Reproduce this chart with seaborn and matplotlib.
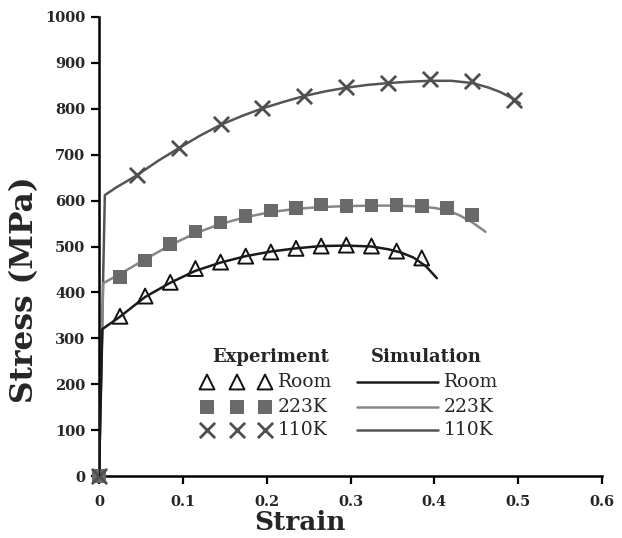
import numpy as np
import pandas as pd
import matplotlib
matplotlib.use("Agg")
import matplotlib.pyplot as plt
import seaborn as sns

# ---------------- data ----------------
# Experiment (markers)
room_exp_strain = [0.025, 0.055, 0.085, 0.115, 0.145, 0.175, 0.205, 0.235, 0.265, 0.295, 0.325, 0.355, 0.385]
room_exp_stress = [348, 392, 422, 452, 466, 479, 488, 496, 501, 503, 501, 490, 475]

k223_exp_strain = [0.0, 0.025, 0.055, 0.085, 0.115, 0.145, 0.175, 0.205, 0.235, 0.265, 0.295, 0.325, 0.355, 0.385, 0.415, 0.445]
k223_exp_stress = [0, 434, 470, 506, 533, 552, 567, 578, 584, 591, 588, 589, 590, 588, 584, 569]

k110_exp_strain = [0.0, 0.045, 0.095, 0.145, 0.195, 0.245, 0.295, 0.345, 0.395, 0.445, 0.495]
k110_exp_stress = [0, 656, 714, 767, 801, 828, 847, 856, 865, 861, 819]

# Simulation (lines)
room_sim_strain = [0.0, 0.004, 0.025, 0.055, 0.085, 0.115, 0.145, 0.175, 0.205, 0.235, 0.265, 0.295, 0.325, 0.345, 0.36, 0.375, 0.39, 0.403]
room_sim_stress = [0, 320, 347, 390, 421, 447, 465, 479, 489, 496, 501, 502, 500, 494, 487, 476, 457, 431]

k223_sim_strain = [0.0, 0.005, 0.025, 0.055, 0.085, 0.115, 0.145, 0.175, 0.205, 0.235, 0.265, 0.295, 0.325, 0.355, 0.385, 0.4, 0.415, 0.43, 0.445, 0.461]
k223_sim_stress = [0, 420, 440, 472, 503, 529, 549, 564, 575, 582, 586, 588, 589, 589, 587, 584, 579, 568, 553, 532]

k110_sim_strain = [0.0, 0.007, 0.02, 0.045, 0.07, 0.095, 0.12, 0.145, 0.17, 0.195, 0.22, 0.245, 0.27, 0.295, 0.32, 0.345, 0.37, 0.395, 0.42, 0.446, 0.465, 0.478, 0.492, 0.502]
k110_sim_stress = [0, 612, 628, 655, 686, 714, 741, 765, 784, 801, 815, 828, 838, 846, 852, 856, 859, 861, 861, 856, 846, 837, 824, 812]

series_names = ["Room", "223K", "110K"]
x_ticks = [0, 0.1, 0.2, 0.3, 0.4, 0.5, 0.6]
x_tick_labels = ["0", "0.1", "0.2", "0.3", "0.4", "0.5", "0.6"]
y_ticks = list(range(0, 1001, 100))

# ---------------- style ----------------
sns.set_style("ticks")
plt.rcParams["font.family"] = ["DejaVu Serif"]

line_colors = {"Room": "#1a1a1a", "223K": "#878787", "110K": "#555555"}
marker_style = {
    "Room": dict(marker="^", s=115, facecolors="none", edgecolors="#111111", linewidths=1.4),
    "223K": dict(marker="s", s=95, color="#6a6a6a", edgecolors="none"),
    "110K": dict(marker="x", s=120, color="#4f4f4f", linewidths=2.0),
}

fig = plt.figure(figsize=(6.22, 5.38), dpi=100)
ax = fig.add_axes([99 / 622, 1 - 476 / 538, 503 / 622, 459 / 538])

sims = {
    "Room": (room_sim_strain, room_sim_stress),
    "223K": (k223_sim_strain, k223_sim_stress),
    "110K": (k110_sim_strain, k110_sim_stress),
}
exps = {
    "Room": (room_exp_strain, room_exp_stress),
    "223K": (k223_exp_strain, k223_exp_stress),
    "110K": (k110_exp_strain, k110_exp_stress),
}

for name in ["110K", "223K"]:
    sx, sy = sims[name]
    sns.lineplot(x=sx, y=sy, ax=ax, color=line_colors[name], lw=1.8,
                 sort=False, estimator=None, zorder=2)
for name in ["Room", "223K", "110K"]:
    ex, ey = exps[name]
    sns.scatterplot(x=ex, y=ey, ax=ax, zorder=3, clip_on=False, **marker_style[name])
sx, sy = sims["Room"]
sns.lineplot(x=sx, y=sy, ax=ax, color=line_colors["Room"], lw=1.8,
             sort=False, estimator=None, zorder=4)

ax.set_xlim(0, 0.6)
ax.set_ylim(0, 1000)
ax.set_xticks(x_ticks)
ax.set_xticklabels(x_tick_labels)
ax.set_yticks(y_ticks)
ax.tick_params(axis="both", direction="out", length=6, width=1.6, labelsize=10.5, pad=4, color="black")
ax.tick_params(axis="x", pad=8)
for lab in ax.get_xticklabels() + ax.get_yticklabels():
    lab.set_fontweight("bold")
sns.despine(ax=ax)
for sp in ["left", "bottom"]:
    ax.spines[sp].set_linewidth(1.8)
    ax.spines[sp].set_color("black")

ax.set_xlabel("Strain", fontsize=19, fontweight="bold", va="center")
ax.xaxis.set_label_coords(0.40, -0.102)
ax.set_ylabel("Stress (MPa)", fontsize=22.5, fontweight="bold", va="center")
ax.yaxis.set_label_coords(-0.148, 0.405)

# ---------------- custom legend table (axes fraction coords) ----------------
def fx(px):
    return (px - 99) / 503.0

def fy(py):
    return (476 - py) / 459.0

T = ax.transAxes
ax.text(fx(271), fy(357), "Experiment", transform=T, ha="center", va="center",
        fontsize=13, fontweight="bold")
ax.text(fx(426), fy(357), "Simulation", transform=T, ha="center", va="center",
        fontsize=13, fontweight="bold")
row_y = [382, 407, 430]
for name, py in zip(series_names, row_y):
    for mx in [207, 237, 265]:
        ax.scatter([fx(mx)], [fy(py)], transform=T, clip_on=False, zorder=5, **marker_style[name])
    ax.text(fx(278), fy(py), name, transform=T, ha="left", va="center", fontsize=13.5)
    ax.plot([fx(357), fx(438)], [fy(py), fy(py)], transform=T, color=line_colors[name], lw=1.8)
    ax.text(fx(444), fy(py), name, transform=T, ha="left", va="center", fontsize=13.5)

fig.savefig("out.png", dpi=100, facecolor="white")
